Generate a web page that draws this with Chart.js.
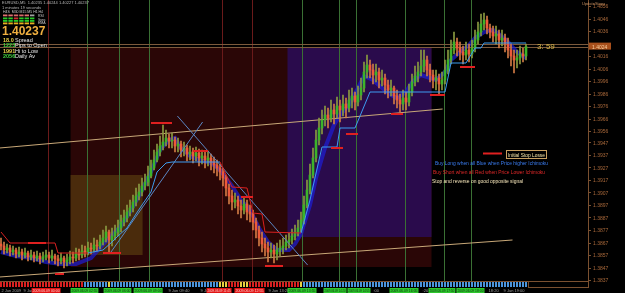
<!DOCTYPE html>
<html>
<head>
<meta charset="utf-8">
<script src="https://cdn.jsdelivr.net/npm/chart.js@4.4.0/dist/chart.umd.min.js"></script>
<style>
html, body { margin: 0; padding: 0; background: #000; overflow: hidden; }
canvas { display: block; }
</style>
</head>
<body>
<canvas id="chart" width="625" height="293"></canvas>
<script>
// EURUSD M5, 9 Jun 2009
const firstOpen = 1.38658;
const close = [
  1.38642,1.38610,1.38626,1.38594,1.38610,1.38578,1.38594,1.38570,1.38586,1.38554,
  1.38570,1.38546,1.38562,1.38538,1.38554,1.38570,1.38546,1.38562,1.38538,1.38522,
  1.38546,1.38514,1.38530,1.38554,1.38546,1.38578,1.38570,1.38602,1.38594,1.38626,
  1.38618,1.38650,1.38642,1.38674,1.38706,1.38754,1.38690,1.38722,1.38754,1.38786,
  1.38834,1.38866,1.38914,1.38946,1.38994,1.39042,1.39074,1.39122,1.39154,1.39202,
  1.39266,1.39330,1.39394,1.39442,1.39474,1.39506,1.39482,1.39490,1.39442,1.39458,
  1.39410,1.39426,1.39378,1.39394,1.39362,1.39386,1.39346,1.39362,1.39330,1.39346,
  1.39314,1.39290,1.39266,1.39234,1.39186,1.39106,1.39042,1.38994,1.39010,1.38962,
  1.38930,1.38978,1.38914,1.38898,1.38834,1.38770,1.38706,1.38658,1.38626,1.38594,
  1.38610,1.38578,1.38610,1.38626,1.38642,1.38674,1.38690,1.38722,1.38754,1.38786,
  1.38850,1.38970,1.39090,1.39210,1.39346,1.39490,1.39586,1.39650,1.39690,1.39666,
  1.39730,1.39698,1.39762,1.39730,1.39778,1.39746,1.39810,1.39842,1.39794,1.39850,
  1.39906,1.40034,1.40090,1.40050,1.40010,1.40034,1.39970,1.39986,1.39930,1.39890,
  1.39906,1.39842,1.39810,1.39778,1.39826,1.39794,1.39874,1.39954,1.40002,1.40034,
  1.40082,1.40130,1.40050,1.40010,1.39970,1.39986,1.39938,1.39970,1.40050,1.40130,
  1.40210,1.40274,1.40226,1.40194,1.40170,1.40210,1.40178,1.40226,1.40290,1.40354,
  1.40418,1.40450,1.40386,1.40354,1.40322,1.40338,1.40290,1.40306,1.40258,1.40210,
  1.40162,1.40130,1.40146,1.40178,1.40162,1.40237
];
const high = [
  1.38706,1.38674,1.38658,1.38650,1.38642,1.38626,1.38634,1.38618,1.38626,1.38602,
  1.38610,1.38594,1.38602,1.38586,1.38594,1.38610,1.38594,1.38610,1.38578,1.38570,
  1.38586,1.38562,1.38578,1.38602,1.38594,1.38626,1.38618,1.38650,1.38642,1.38674,
  1.38666,1.38706,1.38690,1.38730,1.38770,1.38802,1.38770,1.38786,1.38810,1.38850,
  1.38890,1.38930,1.38970,1.39010,1.39050,1.39106,1.39138,1.39186,1.39218,1.39282,
  1.39330,1.39410,1.39458,1.39522,1.39610,1.39570,1.39538,1.39546,1.39514,1.39506,
  1.39482,1.39474,1.39450,1.39442,1.39426,1.39434,1.39418,1.39410,1.39394,1.39402,
  1.39378,1.39354,1.39330,1.39298,1.39266,1.39210,1.39138,1.39090,1.39066,1.39042,
  1.39010,1.39034,1.39010,1.38970,1.38930,1.38866,1.38802,1.38754,1.38706,1.38674,
  1.38666,1.38650,1.38666,1.38690,1.38706,1.38730,1.38746,1.38778,1.38810,1.38850,
  1.38914,1.39042,1.39170,1.39298,1.39426,1.39570,1.39666,1.39730,1.39762,1.39746,
  1.39810,1.39778,1.39834,1.39810,1.39850,1.39826,1.39890,1.39906,1.39874,1.39922,
  1.39986,1.40114,1.40170,1.40130,1.40098,1.40098,1.40066,1.40050,1.40018,1.39970,
  1.39970,1.39922,1.39890,1.39858,1.39890,1.39874,1.39938,1.40018,1.40082,1.40114,
  1.40210,1.40210,1.40162,1.40098,1.40050,1.40050,1.40018,1.40034,1.40130,1.40210,
  1.40290,1.40354,1.40306,1.40274,1.40242,1.40274,1.40258,1.40290,1.40370,1.40434,
  1.40498,1.40506,1.40482,1.40418,1.40402,1.40402,1.40370,1.40370,1.40338,1.40306,
  1.40258,1.40210,1.40210,1.40242,1.40226,1.40258
];
const low = [
  1.38610,1.38578,1.38586,1.38562,1.38570,1.38546,1.38554,1.38530,1.38546,1.38522,
  1.38530,1.38514,1.38522,1.38498,1.38514,1.38530,1.38506,1.38522,1.38498,1.38482,
  1.38498,1.38466,1.38482,1.38498,1.38506,1.38522,1.38530,1.38546,1.38554,1.38570,
  1.38578,1.38594,1.38602,1.38618,1.38650,1.38674,1.38586,1.38642,1.38690,1.38722,
  1.38754,1.38802,1.38834,1.38882,1.38914,1.38962,1.39010,1.39042,1.39090,1.39122,
  1.39186,1.39250,1.39314,1.39362,1.39410,1.39442,1.39426,1.39426,1.39394,1.39394,
  1.39354,1.39362,1.39322,1.39330,1.39306,1.39322,1.39282,1.39298,1.39266,1.39282,
  1.39250,1.39226,1.39202,1.39170,1.39122,1.39042,1.38978,1.38930,1.38946,1.38898,
  1.38866,1.38898,1.38850,1.38834,1.38770,1.38706,1.38642,1.38594,1.38562,1.38514,
  1.38546,1.38506,1.38530,1.38562,1.38578,1.38610,1.38626,1.38658,1.38690,1.38722,
  1.38754,1.38818,1.38946,1.39058,1.39186,1.39314,1.39450,1.39538,1.39602,1.39586,
  1.39634,1.39618,1.39666,1.39634,1.39682,1.39666,1.39714,1.39746,1.39730,1.39762,
  1.39810,1.39874,1.39986,1.39986,1.39938,1.39954,1.39906,1.39922,1.39858,1.39826,
  1.39842,1.39778,1.39746,1.39714,1.39730,1.39730,1.39762,1.39842,1.39922,1.39954,
  1.40002,1.40034,1.40002,1.39954,1.39906,1.39890,1.39858,1.39890,1.39938,1.40018,
  1.40098,1.40178,1.40162,1.40130,1.40098,1.40130,1.40114,1.40146,1.40194,1.40258,
  1.40322,1.40370,1.40338,1.40306,1.40274,1.40258,1.40226,1.40242,1.40194,1.40146,
  1.40082,1.40026,1.40066,1.40098,1.40114,1.40130
];

// stepped baseline (red while falling, light blue while rising)
const kijunRed1 = [{x:0,y:1.38754},{x:3,y:1.38666},{x:18,y:1.38666},{x:19,y:1.38586},{x:29,y:1.38586}];
const kijunBlue1 = [{x:29,y:1.38586},{x:34,y:1.38610},{x:37,y:1.38674},{x:39,y:1.38722},{x:42,y:1.38786},
  {x:45,y:1.38898},{x:47,y:1.38970},{x:50,y:1.39074},{x:52,y:1.39234},{x:55,y:1.39306},{x:57,y:1.39314},{x:73,y:1.39314}];
const kijunRed2 = [{x:73,y:1.39314},{x:77,y:1.39114},{x:82,y:1.39106},{x:84,y:1.38906},{x:87,y:1.38898},{x:88,y:1.38754},{x:100,y:1.38746}];
const kijunBlue2 = [{x:100,y:1.38746},{x:103,y:1.39010},{x:106,y:1.39330},{x:107,y:1.39434},{x:112,y:1.39434},
  {x:113,y:1.39586},{x:118,y:1.39586},{x:123,y:1.39874},{x:148,y:1.39874},{x:150,y:1.40106},{x:155,y:1.40106},
  {x:158,y:1.40226},{x:160,y:1.40226},{x:161,y:1.40266},{x:175,y:1.40266}];

// thick blue band
const bandIdx = [0,5,10,15,20,25,30,33,36,40,43,46,50,53,56,58,60,63,66,70,73,77,80,83,86,89,92,96,98,100,
  103,105,108,111,113,116,119,121,124,127,130,132,135,137,140,143,145,148,150,153,156,158,161,164,166,169,172,175];
const bandVal = [1.38594,1.38562,1.38546,1.38514,1.38498,1.38498,1.38546,1.38626,1.38706,1.38802,1.38914,1.39042,
  1.39234,1.39410,1.39490,1.39506,1.39426,1.39362,1.39330,1.39306,1.39250,1.39122,1.39010,1.38930,1.38786,1.38674,
  1.38610,1.38610,1.38658,1.38738,1.38970,1.39186,1.39426,1.39610,1.39690,1.39770,1.39906,1.40002,1.39970,1.39906,
  1.39850,1.39826,1.39874,1.39954,1.40010,1.39986,1.39970,1.40034,1.40130,1.40194,1.40250,1.40306,1.40354,1.40370,
  1.40338,1.40274,1.40194,1.40146];

// initial stop levels
const stopFrom = [9, 18, 34, 50, 64, 80, 88, 110, 115, 130, 143, 153];
const stopTo = [15, 21, 40, 57, 69, 84, 94, 114, 119, 134, 148, 158];
const stopLevel = [1.38666, 1.38418, 1.38586, 1.39626, 1.39402, 1.39034, 1.38482, 1.39426, 1.39538, 1.39698, 1.39850, 1.40074];

const trendUpper = [{x:-0.5,y:1.39426},{x:147.2,y:1.39738}];
const trendLower = [{x:-0.5,y:1.38394},{x:170.5,y:1.38690}];
const diagA = [{x:58.8,y:1.39682},{x:102.2,y:1.38490}];
const diagB = [{x:67.2,y:1.39634},{x:36.2,y:1.38578}];

// session boxes: dark red, purple, orange
const zoneFrom = [23.2, 95.5, 23.2];
const zoneTo = [143.5, 143.5, 47.2];
const zoneHigh = [1.40226, 1.40226, 1.39210];
const zoneLow = [1.38474, 1.38714, 1.38570];
const zoneColors = ['#2a0606', '#2a0b4c', '#4a2b0c'];

const vGreen = [28.5, 39.2, 49.2, 100.5, 112.5, 118.5, 134.5, 147.5, 156.8];
const vRed = [15.5, 73.5, 83.5];

const bid = 1.40237, ask = 1.40255;
const yTicks = [1.4056, 1.4046, 1.4036, 1.4016, 1.4006, 1.3996, 1.3986, 1.3976, 1.3966, 1.3956, 1.3947,
  1.3937, 1.3927, 1.3917, 1.3907, 1.3897, 1.3887, 1.3877, 1.3867, 1.3857, 1.3847, 1.3837];

const stripRuns = [['R',28],['B',8],['Y',1],['B',36],['Y',3],['R',4],['Y',3],['R',17],['Y',1],['B',75]];

const timeIdx = [-0.2, 7.2, 10.2, 23.2, 34.2, 44.2, 55.5, 66.2, 68.5, 77.8, 88.8, 95.5, 107.5, 115.5, 123.8, 129.5, 140.2, 142.5, 151.8, 162.2, 167.2];
const timeEnd = [null, null, 20.2, 32.8, 43.8, 54.2, null, null, 77.2, 88.2, null, 105.5, 115.5, 123.5, null, 139.5, null, 151.8, 161.5, null, null];
const timeText = ['2 Jun 2009', '9 Jun', '2009.06.09 00:00', '2009.06.09 02:55', '2009.06.09 06:00', '2009.06.09 09:00',
  '9 Jun 09:40', '9 Jun 10:', '2009.06.09 11:45', '2009.06.09 12:55', '9 Jun 13:20', '2009.06.09 13:55',
  '2009.06.09 14:20', '2009.06.09 14:55', ':00', '2009.06.09 16:05', ':20', '2009.06.09 17:50', '2009.06.09 18:00', '18:20', '9 Jun 19:00'];
const timeKind = ['t','t','r','g','g','g','t','t','r','r','t','g','g','g','t','g','t','g','g','t','t'];

const open = close.map((c, i) => i === 0 ? firstOpen : close[i - 1]);
const isUp = close.map((c, i) => c >= open[i]);
const idx = close.map((c, i) => i);

const stopData = [];
stopFrom.forEach((f, k) => {
  stopData.push({x: f, y: stopLevel[k]}, {x: stopTo[k], y: stopLevel[k]}, {x: stopTo[k] + 0.3, y: null});
});

const font = (px, w) => `${w || ''} ${px}px "Liberation Sans", "DejaVu Sans", sans-serif`;

const overlay = {
  id: 'overlay',
  beforeDraw(chart) {
    const ctx = chart.ctx;
    ctx.save();
    ctx.fillStyle = '#000';
    ctx.fillRect(0, 0, chart.width, chart.height);
    ctx.restore();
  },
  beforeDatasetsDraw(chart) {
    const { ctx, scales: { x, y } } = chart;
    ctx.save();
    zoneFrom.forEach((f, k) => {
      const x0 = x.getPixelForValue(f), x1 = x.getPixelForValue(zoneTo[k]);
      const y0 = y.getPixelForValue(zoneHigh[k]), y1 = y.getPixelForValue(zoneLow[k]);
      ctx.fillStyle = zoneColors[k];
      ctx.fillRect(x0, y0, x1 - x0, y1 - y0);
    });
    ctx.lineWidth = 1;
    const vline = (v, col) => {
      const px = Math.round(x.getPixelForValue(v)) + 0.5;
      ctx.strokeStyle = col;
      ctx.beginPath(); ctx.moveTo(px, 0); ctx.lineTo(px, 281); ctx.stroke();
    };
    vGreen.forEach(v => vline(v, '#3a7034'));
    vRed.forEach(v => vline(v, '#6a1a1a'));
    [bid, ask].forEach(p => {
      const py = Math.round(y.getPixelForValue(p)) + 0.5;
      ctx.strokeStyle = '#7c5a3c';
      ctx.beginPath(); ctx.moveTo(0, py); ctx.lineTo(588, py); ctx.stroke();
    });
    ctx.restore();
  },
  afterDraw(chart) {
    const { ctx, scales: { x, y } } = chart;
    const text = (s, px, py, col, f, maxW) => {
      ctx.font = f; ctx.fillStyle = col; ctx.textAlign = 'left'; ctx.textBaseline = 'alphabetic';
      if (maxW) ctx.fillText(s, px, py, maxW); else ctx.fillText(s, px, py);
    };
    ctx.save();

    // right price axis
    ctx.strokeStyle = '#7a5030';
    ctx.lineWidth = 1;
    ctx.beginPath(); ctx.moveTo(588.5, 0); ctx.lineTo(588.5, 288); ctx.stroke();
    ctx.beginPath(); ctx.moveTo(0, 281.5); ctx.lineTo(588, 281.5); ctx.stroke();
    yTicks.forEach(v => {
      const py = y.getPixelForValue(v);
      ctx.strokeStyle = '#7a5030';
      ctx.beginPath(); ctx.moveTo(588, Math.round(py) + 0.5); ctx.lineTo(591, Math.round(py) + 0.5); ctx.stroke();
      text(v.toFixed(4), 593, py + 2, '#a8683a', font(5));
    });
    const bp = y.getPixelForValue(bid);
    ctx.fillStyle = '#a8501c';
    ctx.fillRect(589, bp - 4, 22, 7);
    text('1.4024', 592, bp + 2, '#f8d0a0', font(5));

    // candle state strip
    let k = 0;
    const stripCol = { R: '#d82020', B: '#4a94dc', Y: '#e8d040' };
    stripRuns.forEach(([c, n]) => {
      for (let j = 0; j < n; j++, k++) {
        ctx.fillStyle = stripCol[c];
        ctx.fillRect(Math.round(x.getPixelForValue(k)) - 1, 282, 2, 5);
      }
    });
    ctx.strokeStyle = '#7a5030';
    ctx.strokeRect(528.5, 281.5, 60, 6);

    // time labels
    timeIdx.forEach((v, j) => {
      const px = Math.max(0, x.getPixelForValue(v));
      if (timeKind[j] === 't') {
        text(timeText[j], px + 1, 292, '#a0a0a0', font(4));
      } else {
        const pe = x.getPixelForValue(timeEnd[j]);
        ctx.fillStyle = timeKind[j] === 'r' ? '#e01414' : '#2ec82e';
        ctx.fillRect(px, 288, pe - px - 1, 5);
        text(timeText[j], px + 1, 292, timeKind[j] === 'r' ? '#ffd0d0' : '#103010', font(4), pe - px - 3);
      }
    });

    // info panel
    text('EURUSD,M5  1.40235 1.40244 1.40227 1.40237', 2, 4, '#b8b8b8', font(4));
    text('1 minutes 19 seconds', 2, 8.5, '#b8b8b8', font(4));
    text('H4S  M30 M15 M5 H1 H4', 3, 12.5, '#c8c8c8', font(3.5));
    const rows = [
      [14.5, ['#e07070', '#e07070', '#d86868', '#d86868', '#e07070', '#a0a0a0']],
      [17.5, ['#28c828', '#28c828', '#d03030', '#28c828', '#28c828', '#28c828']],
      [20, ['#28c828', '#28c828', '#28c828', '#28c828', '#28c828', '#28c828']],
      [22.5, ['#e8b020', '#e8b020', '#e8b020', '#e8b020', '#e8b020', '#e8b020']]
    ];
    rows.forEach(([ry, cols]) => cols.forEach((c, j) => {
      ctx.fillStyle = c;
      ctx.fillRect(3 + j * 5.4, ry, 4.4, 1.8);
    }));
    text('RSI', 38, 17, '#c8c8c8', font(3.5));
    text('Sync', 38, 20.5, '#c8c8c8', font(3.5));
    text('EMA', 38, 24, '#c8c8c8', font(3.5));
    text('1.40237', 2, 35, '#f0b040', font(12, 'bold'));
    const info = [['18.0', 'Spread', '#e8d048'], ['1223', 'Pips to Open', '#40d040'],
      ['1991', 'Hi to Low', '#e8d048'], ['2056', 'Daily Av', '#40d040']];
    info.forEach(([n, s, c], j) => {
      text(n, 3, 41.5 + j * 5.6, c, font(5.5, 'bold'));
      text(s, 15, 41.5 + j * 5.6, '#e8e8e8', font(5.5));
    });

    // legend notes
    ctx.strokeStyle = '#e02020';
    ctx.lineWidth = 2;
    ctx.beginPath(); ctx.moveTo(483, 153.5); ctx.lineTo(502, 153.5); ctx.stroke();
    ctx.lineWidth = 1;
    ctx.strokeStyle = '#c8a060';
    ctx.strokeRect(506.5, 150.5, 40, 8);
    text('Initial Stop Losse', 508, 157, '#f4e4a8', font(5), 37);
    text('Buy Long when all Blue when Price higher Ichimoku', 435, 165, '#3a7cf0', font(5), 113);
    text('Buy Short when all Red when Price Lower Ichimoku', 433, 174, '#e02828', font(5), 112);
    text('Stop and reverse on good opposite signal', 432, 183, '#f4e4b8', font(5), 91);

    text('3: 59', 537, 49, '#d8b848', font(8));
    text('UpdateStops', 582, 4.5, '#c89060', font(4));
    ctx.restore();
  }
};

const pts = (xs, ys) => xs.map((v, i) => ({x: v, y: ys[i]}));
const lineSet = (data, color, width, order) => ({
  type: 'line', data, borderColor: color, borderWidth: width, pointRadius: 0, tension: 0, order, spanGaps: false
});

new Chart(document.getElementById('chart').getContext('2d'), {
  type: 'bar',
  data: {
    datasets: [
      lineSet(pts(bandIdx, bandVal), 'rgba(30,30,215,0.7)', 4, 10),
      lineSet(trendUpper, '#c8a878', 1, 9),
      lineSet(trendLower, '#c8a878', 1, 9),
      {
        label: 'wick', data: idx.map(i => ({x: i, y: [low[i], high[i]]})),
        backgroundColor: isUp.map(u => u ? '#8a9a40' : '#d07a44'),
        barThickness: 1, grouped: false, order: 6
      },
      {
        label: 'body', data: idx.map(i => ({x: i, y: [open[i], close[i]]})),
        backgroundColor: isUp.map(u => u ? '#3cb42a' : '#ee5a3a'),
        barThickness: 2, grouped: false, minBarLength: 1, order: 5
      },
      lineSet(diagA, '#5a86c4', 1, 4),
      lineSet(diagB, '#5a86c4', 1, 4),
      lineSet(kijunRed1, '#d82020', 1, 3),
      lineSet(kijunBlue1, '#3c9cf0', 1, 3),
      lineSet(kijunRed2, '#d82020', 1, 3),
      lineSet(kijunBlue2, '#3c9cf0', 1, 3),
      lineSet(stopData, '#e02020', 2, 1)
    ]
  },
  options: {
    responsive: false,
    animation: false,
    devicePixelRatio: 1,
    layout: { padding: { left: 0, top: 0, right: 37, bottom: 12 } },
    plugins: { legend: { display: false }, tooltip: { enabled: false } },
    scales: {
      x: { type: 'linear', min: -1 / 3, max: 196 - 1 / 3, display: false, offset: false },
      y: { type: 'linear', min: 1.38362, max: 1.4061, display: false }
    }
  },
  plugins: [overlay]
});
</script>
</body>
</html>
